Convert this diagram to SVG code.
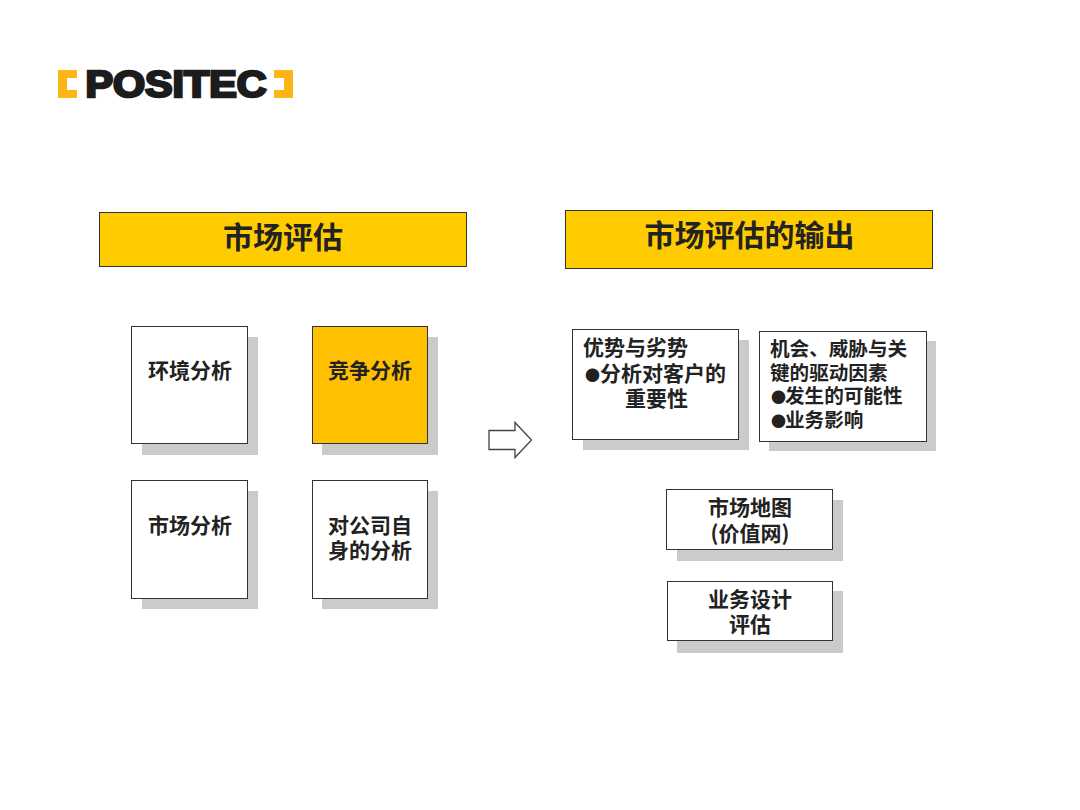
<svg xmlns="http://www.w3.org/2000/svg" width="1080" height="810" viewBox="0 0 1080 810">
<style>
text{font-family:"Noto Sans CJK SC","Liberation Sans",sans-serif;font-weight:700;fill:#222}
.s{fill:#cbcbcb}
.b{fill:#fff;stroke:#333;stroke-width:1}
.y{fill:#ffcc00;stroke:#333;stroke-width:1}
.t{font-size:21px;text-anchor:middle}
.l{font-size:21px}
.r{font-size:19.600px}
.d{font-size:15px}
.h{font-size:30px;text-anchor:middle}
</style>
<rect width="1080" height="810" fill="#fff"/>
<g id="logo">
<path d="M58 70H77V78H67V90H77V98H58Z" fill="#fbb615"/>
<path d="M293 70H274V78H284V90H274V98H293Z" fill="#fbb615"/>
<text x="176" y="97" font-size="37" text-anchor="middle" textLength="181" lengthAdjust="spacingAndGlyphs" style="font-family:'Liberation Sans',sans-serif;font-weight:700;fill:#1c1c1c;stroke:#1c1c1c;stroke-width:2.600">POSITEC</text>
</g>
<g id="header-left"><rect class="y" x="99.500" y="212.500" width="367" height="54"/><text class="h" x="283" y="248">市场评估</text></g>
<g id="header-right"><rect class="y" x="565.500" y="210.500" width="367" height="58"/><text class="h" x="749.500" y="246">市场评估的输出</text></g>
<g id="env"><rect class="s" x="142" y="337" width="116" height="118"/><rect class="b" x="131.500" y="326.500" width="116" height="117"/><text class="t" x="190" y="378">环境分析</text></g>
<g id="comp"><rect class="s" x="322" y="337" width="116" height="118"/><rect x="312.500" y="326.500" width="115" height="117" fill="#ffc000" stroke="#333"/><text class="t" x="370" y="378">竞争分析</text></g>
<g id="market"><rect class="s" x="142" y="491" width="116" height="118"/><rect class="b" x="131.500" y="480.500" width="116" height="118"/><text class="t" x="190" y="533">市场分析</text></g>
<g id="self"><rect class="s" x="322" y="491" width="116" height="118"/><rect class="b" x="312.500" y="480.500" width="115" height="118"/><text class="t" x="370" y="533">对公司自</text><text class="t" x="370" y="558">身的分析</text></g>
<g id="connectors"><path d="M489 430.500H515V422.500L531.500 440L515 457.500V449.500H489Z" fill="#fff" stroke="#444" stroke-width="1.300"/></g>
<g id="strengths"><rect class="s" x="583" y="340" width="166" height="110"/><rect class="b" x="572.500" y="329.500" width="166" height="110"/>
<text class="l" x="583" y="355">优势与劣势</text>
<text class="l" y="381"><tspan class="d" x="585">●</tspan><tspan x="600">分析对客户的</tspan></text>
<text class="l" x="625" y="406">重要性</text></g>
<g id="opportunities"><rect class="s" x="769" y="341" width="167" height="110"/><rect class="b" x="759.500" y="331.500" width="167" height="110"/>
<text class="r" x="770" y="356">机会、威胁与关</text>
<text class="r" x="770" y="380">键的驱动因素</text>
<text class="r" y="403"><tspan class="d" x="771">●</tspan><tspan x="785">发生的可能性</tspan></text>
<text class="r" y="427"><tspan class="d" x="771">●</tspan><tspan x="785">业务影响</tspan></text></g>
<g id="map"><rect class="s" x="677" y="500" width="166" height="61"/><rect class="b" x="666.500" y="489.500" width="166" height="60"/><text class="t" x="750" y="515">市场地图</text><text class="t" x="750" y="541">(价值网)</text></g>
<g id="design"><rect class="s" x="677" y="591" width="166" height="62"/><rect class="b" x="667.500" y="581.500" width="165" height="59"/><text class="t" x="750" y="607">业务设计</text><text class="t" x="750" y="632">评估</text></g>
</svg>
